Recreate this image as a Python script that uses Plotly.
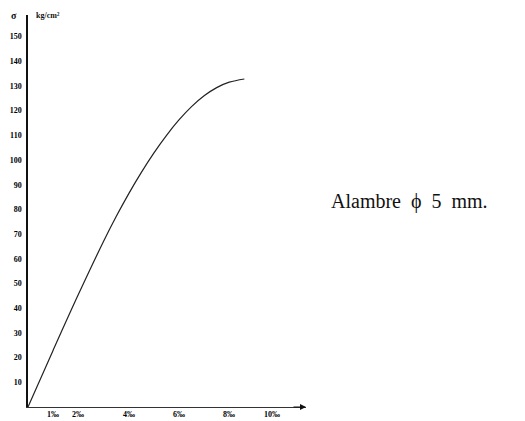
import plotly.graph_objects as go

# Stress-strain curve (strain in per-mille, stress)
strain = [0, 1, 2, 3, 3.5, 4, 4.5, 5, 5.5, 6, 6.5, 7, 7.5, 8, 8.6]
stress = [0, 23.0, 45.5, 67.0, 77.0, 86.3, 94.9, 102.8, 109.9, 116.2, 121.6, 126.0, 129.3, 131.5, 132.8]

y_ticks = [10, 20, 30, 40, 50, 60, 70, 80, 90, 100, 110, 120, 130, 140, 150]
x_ticks = [1, 2, 4, 6, 8, 9.7]
x_tick_labels = ["1‰", "2‰", "4‰", "6‰", "8‰", "10‰"]

fig = go.Figure()
fig.add_trace(go.Scatter(
    x=strain, y=stress, mode="lines",
    line=dict(color="#222222", width=1.2, shape="spline", smoothing=1.0),
    hoverinfo="skip", showlegend=False,
))

tick_font = dict(family="Liberation Serif", size=8, color="#000000", weight="bold")

annotations = [
    dict(x=xv, y=0, xref="x", yref="paper", text=lab, showarrow=False,
         xanchor="center", yanchor="top", yshift=-2, borderpad=0,
         font=tick_font)
    for xv, lab in zip(x_ticks, x_tick_labels)
]
annotations += [
    dict(x=1.0, y=0, xref="paper", yref="y", ax=-14, ay=0,
         text="", showarrow=True, arrowhead=2, arrowsize=1,
         arrowwidth=1.2, arrowcolor="#111111"),
    dict(x=-0.05, y=1.0, xref="paper", yref="paper", text="σ",
         showarrow=False, xanchor="center", yanchor="middle",
         font=dict(family="Liberation Serif", size=10, color="#111111", weight="bold")),
    dict(x=0.02, y=1.0, xref="paper", yref="paper", text="kg/cm²",
         showarrow=False, xanchor="left", yanchor="middle",
         font=dict(family="Liberation Serif", size=8, color="#111111", weight="bold")),
    dict(x=1.083, y=0.525, xref="paper", yref="paper",
         text="Alambre  ϕ  5  mm.", showarrow=False,
         xanchor="left", yanchor="middle",
         font=dict(family="Liberation Serif", size=20, color="#111111")),
]

fig.update_layout(
    width=525, height=421,
    margin=dict(l=28, r=219, t=15, b=14),
    paper_bgcolor="white", plot_bgcolor="white",
    xaxis=dict(
        range=[0, 11.05], showgrid=False, zeroline=False,
        showline=True, linecolor="#333333", linewidth=1.2,
        showticklabels=False, ticks="", automargin=False,
    ),
    yaxis=dict(
        range=[0, 158.7], showgrid=False, zeroline=False,
        showline=True, linecolor="#111111", linewidth=1.5,
        tickvals=y_ticks, ticks="", tickfont=tick_font, automargin=False,
        ticklabelstandoff=3,
    ),
    annotations=annotations,
)

fig.write_html("out.html", config={"displayModeBar": False},
               post_script="document.body.style.margin='0';")
